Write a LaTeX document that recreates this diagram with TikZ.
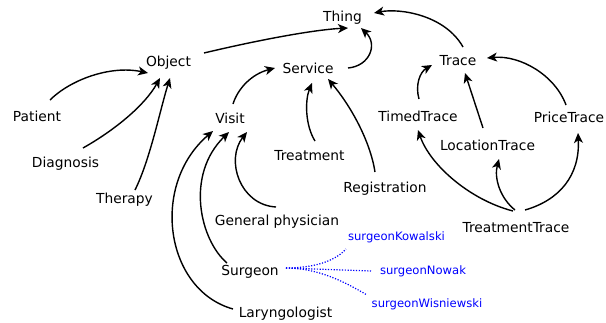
\documentclass[tikz,border=0pt]{standalone}
\usepackage{fontspec}
\setmainfont{DejaVu Sans}
\usetikzlibrary{arrows.meta}
\begin{document}
\begin{tikzpicture}[x=1pt,y=-1pt,
  lbl/.style={anchor=base,inner sep=0pt,font=\fontsize{13.8}{16}\selectfont},
  ind/.style={anchor=base,inner sep=0pt,text=blue,font=\fontsize{11.6}{14}\selectfont},
  arr/.style={line width=1.4pt,-{Stealth[length=10pt,width=9pt,inset=2.8pt]}},
  dots/.style={blue,line width=1.2pt,dash pattern=on 1.2pt off 1.6pt}]
\useasboundingbox (0,0) rectangle (606,322);
\node[lbl] (thing) at (342.5,21) {Thing};
\node[lbl] (obj) at (168.5,66) {Object};
\node[lbl] (serv) at (308,73) {Service};
\node[lbl] (trace) at (458,65) {Trace};
\node[lbl] (patient) at (37,121) {Patient};
\node[lbl] (visit) at (230,123) {Visit};
\node[lbl] (timed) at (418,121) {TimedTrace};
\node[lbl] (price) at (569,122) {PriceTrace};
\node[lbl] (loc) at (487.5,150) {LocationTrace};
\node[lbl] (treat) at (309.5,160) {Treatment};
\node[lbl] (reg) at (385,192) {Registration};
\node[lbl] (diag) at (65.5,167) {Diagnosis};
\node[lbl] (ther) at (124.5,203) {Therapy};
\node[lbl] (tt) at (516,232) {TreatmentTrace};
\node[lbl] (gp) at (277,225) {General physician};
\node[lbl] (surg) at (250,275) {Surgeon};
\node[lbl] (lar) at (285.5,317) {Laryngologist};
\node[ind] (sk) at (396.5,240) {surgeonKowalski};
\node[ind] (sn) at (423,274) {surgeonNowak};
\node[ind] (sw) at (427,307) {surgeonWisniewski};

\draw[arr] ([shift={(35.5,-13)}]obj.base) .. controls +(46,-11) and +(-38,2) .. ([shift={(5.5,7)}]thing.base);
\draw[arr] ([shift={(40,-5)}]serv.base) .. controls +(22,-2) and +(17,16) .. ([shift={(18.5,7)}]thing.base);
\draw[arr] ([shift={(5,-18)}]trace.base) .. controls +(-18,-32) and +(26,-5) .. ([shift={(31.5,-8)}]thing.base);
\draw[arr] ([shift={(1,-22)}]timed.base) .. controls +(-4,-14) and +(-12,7) .. ([shift={(-26,0)}]trace.base);
\draw[arr] ([shift={(-4.5,-22)}]loc.base) -- ([shift={(7,8)}]trace.base);
\draw[arr] ([shift={(-3,-17)}]price.base) .. controls +(-11,-30) and +(33,-3) .. ([shift={(29,-7)}]trace.base);
\draw[arr] ([shift={(-3,-21)}]tt.base) .. controls +(-43,-11) and +(12,35) .. ([shift={(0,9)}]timed.base);
\draw[arr] ([shift={(-1,-22)}]tt.base) .. controls +(-15,-12) and +(-5,19) .. ([shift={(11.5,9)}]loc.base);
\draw[arr] ([shift={(9,-22)}]tt.base) .. controls +(35,-10) and +(2,42) .. ([shift={(9,11)}]price.base);
\draw[arr] ([shift={(13,-21)}]patient.base) .. controls +(20,-20) and +(-38,-8) .. ([shift={(-20.5,7)}]obj.base);
\draw[arr] ([shift={(17.5,-19)}]diag.base) .. controls +(32,-18) and +(-15,27) .. ([shift={(-8.5,12)}]obj.base);
\draw[arr] ([shift={(10.5,-13)}]ther.base) .. controls +(15,-30) and +(-10,32) .. ([shift={(1.5,12)}]obj.base);
\draw[arr] ([shift={(3,-19)}]visit.base) .. controls +(5,-16) and +(-23,6) .. ([shift={(-33,-5)}]serv.base);
\draw[arr] ([shift={(5.5,-19)}]treat.base) .. controls +(-10,-16) and +(-7,17) .. ([shift={(4,10)}]serv.base);
\draw[arr] ([shift={(-10,-20)}]reg.base) .. controls +(-5,-32) and +(22,26) .. ([shift={(20,6)}]serv.base);
\draw[arr] ([shift={(-1,-18)}]gp.base) .. controls +(-36,-2) and +(-22,28) .. ([shift={(17,9)}]visit.base);
\draw[arr] ([shift={(-23,-12)}]surg.base) .. controls +(-27,-23) and +(-44,43) .. ([shift={(-1,9)}]visit.base);
\draw[arr] ([shift={(-52.5,-8)}]lar.base) .. controls +(-68,-19) and +(-63,54) .. ([shift={(-17,8)}]visit.base);

\draw[dots] ([shift={(36,-7)}]surg.base) .. controls +(34,0) and +(-8,9) .. ([shift={(-50.5,9)}]sk.base);
\draw[dots] ([shift={(36,-7)}]surg.base) -- ([shift={(-52,-3)}]sn.base);
\draw[dots] ([shift={(36,-7)}]surg.base) .. controls +(32,0) and +(-22,-13) .. ([shift={(-60,-12)}]sw.base);
\end{tikzpicture}
\end{document}
